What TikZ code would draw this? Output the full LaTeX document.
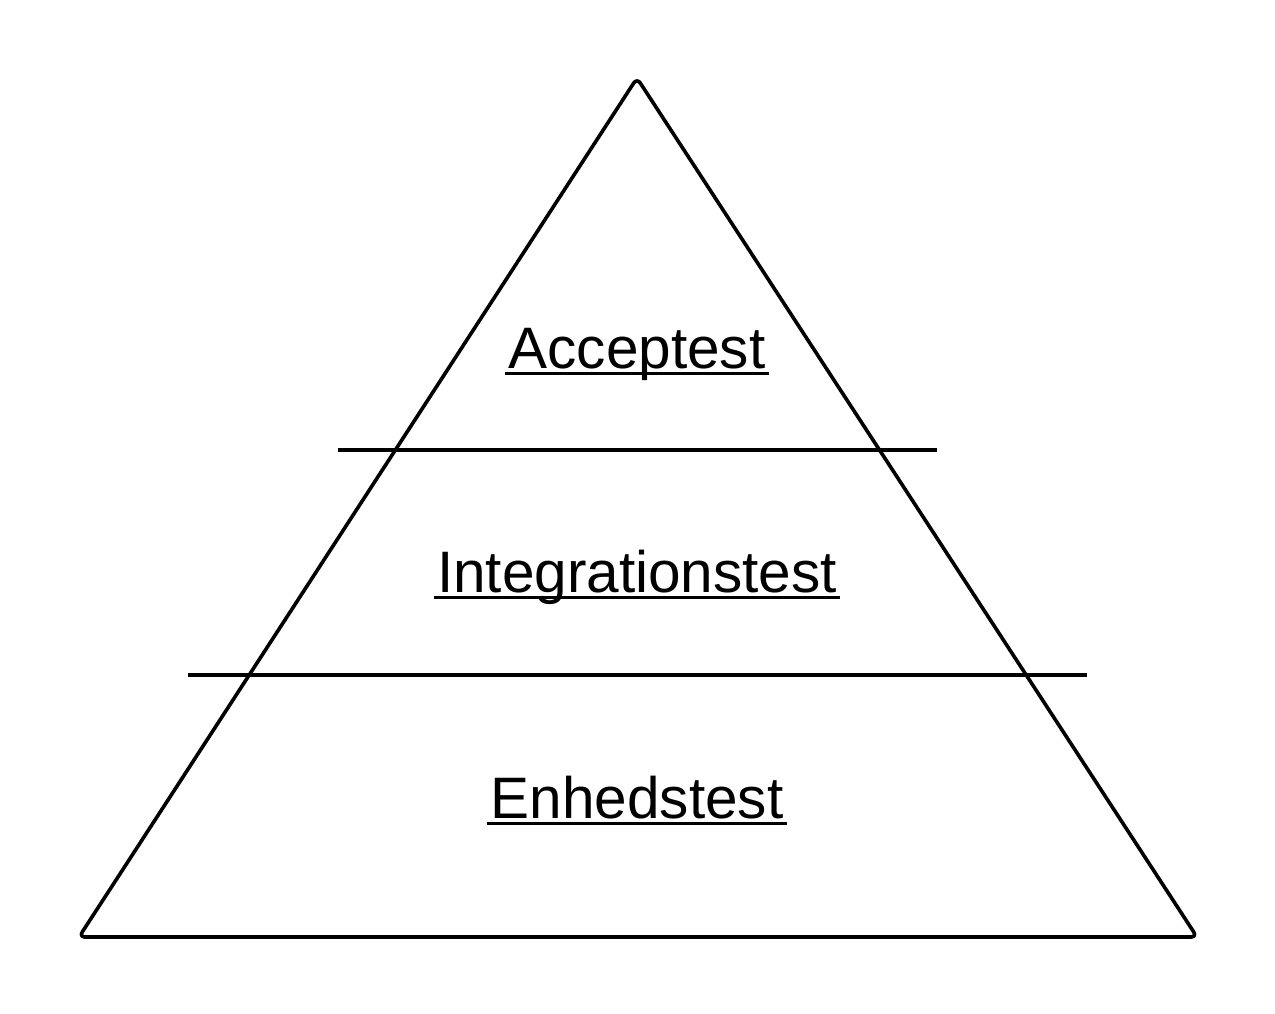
\documentclass[tikz,border=0pt]{standalone}
\usepackage{fontspec}
\setmainfont{Liberation Sans}
\begin{document}
\begin{tikzpicture}[x=1pt,y=-1pt,
  edge/.style={line width=3.6pt},
  level/.style={font=\fontsize{58.5}{62}\selectfont, inner sep=0pt, anchor=base},
  uline/.style={line width=3.4pt}]
\useasboundingbox (0,0) rectangle (1275,1013);
\coordinate (apex) at (637,78);
\coordinate (bl) at (79,937);
\coordinate (br) at (1197,937);
\draw[edge, rounded corners=6pt, line join=round] (apex) -- (br) -- (bl) -- cycle;
\coordinate (l1a) at (338,450); \coordinate (l1b) at (937,450);
\coordinate (l2a) at (188,675); \coordinate (l2b) at (1087,675);
\draw[edge] (l1a) -- (l1b);
\draw[edge] (l2a) -- (l2b);
\node[level] (acc) at (637,368) {Acceptest};
\node[level] (int) at (637,592) {Integrationstest};
\node[level] (enh) at (637,818) {Enhedstest};
\foreach \n in {acc,int,enh}{
  \draw[uline] ([xshift=-3pt,yshift=-5.5pt]\n.base west) -- ([xshift=3pt,yshift=-5.5pt]\n.base east);
}
\end{tikzpicture}
\end{document}
